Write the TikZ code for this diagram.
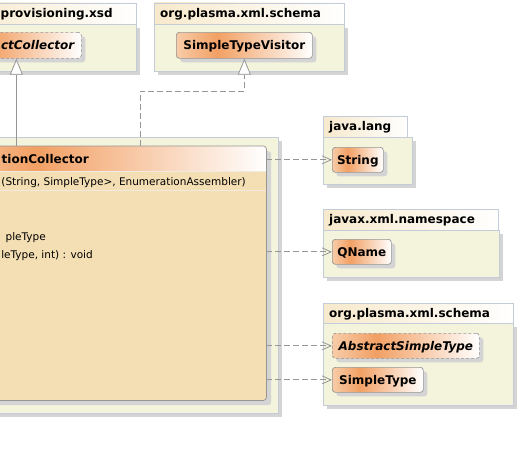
\documentclass[tikz,border=0pt]{standalone}
\usepackage{fontspec}
\setmainfont{DejaVu Sans}
\usetikzlibrary{arrows.meta,shadows}
\definecolor{pkgbody}{RGB}{244,244,221}
\definecolor{pkgline}{RGB}{196,204,218}
\definecolor{pkghead}{RGB}{247,233,204}
\definecolor{clsA}{RGB}{247,204,168}
\definecolor{clsB}{RGB}{242,160,100}
\definecolor{clsline}{RGB}{150,150,150}
\definecolor{wheatfill}{RGB}{244,222,180}
\definecolor{shd}{RGB}{212,212,212}
\definecolor{conn}{RGB}{150,150,150}
\definecolor{sepline}{RGB}{240,234,224}
\pgfdeclarehorizontalshading{clsshade}{100bp}{color(0bp)=(clsA); color(25bp)=(clsA); color(40bp)=(clsB); color(75bp)=(white); color(100bp)=(white)}
\begin{document}
\begin{tikzpicture}[x=1pt,y=-1pt,
  shadowed/.style={drop shadow={shadow xshift=4pt,shadow yshift=-4pt,fill=shd,opacity=1}},
  pkgb/.style={draw=pkgline,fill=pkgbody,line width=0.6pt,anchor=north west,inner sep=0pt,shadowed},
  pkgt/.style={draw=pkgline,left color=pkghead,right color=white,line width=0.6pt,anchor=north west,inner sep=0pt},
  pkglbl/.style={font=\bfseries\fontsize{12}{14}\selectfont,text height=8.8pt,text depth=0pt,inner sep=0pt},
  cls/.style={draw=clsline,shade,shading=clsshade,rounded corners=3pt,line width=0.7pt,anchor=north west,inner sep=0pt,
    font=\bfseries\fontsize{12}{14}\selectfont,text height=8.8pt,text depth=0pt,shadowed},
  abscls/.style={cls,dash pattern=on 3pt off 2pt,font=\bfseries\itshape\fontsize{12}{14}\selectfont},
  mem/.style={font=\fontsize{10.5}{12}\selectfont,text height=7.7pt,text depth=0pt,inner sep=0pt,anchor=east},
  dep/.style={draw=conn,line width=0.8pt,dash pattern=on 6pt off 3pt,-{Straight Barb[length=9pt,width=8pt]}},
  gen/.style={draw=conn,line width=0.8pt,-{Triangle[length=16pt,width=13pt,fill=white]}},
  real/.style={gen,dash pattern=on 6pt off 3pt}
]
\useasboundingbox (0,0) rectangle (521,456);
\clip (0,0) rectangle (521,456);

% package provisioning.xsd (top left)
\node[pkgb,minimum width=176pt,minimum height=47pt] (p1b) at (-40,24) {};
\node[pkgt,minimum width=176pt,minimum height=21.5pt] (p1t) at (-40,2.5) {};
\node[pkglbl,anchor=west] (p1l) at (0.5,13.5) {provisioning.xsd};
\node[abscls,minimum width=130pt,minimum height=26pt] (ac) at (-49,32) {};
\node[pkglbl,font=\bfseries\itshape\fontsize{12}{14}\selectfont,anchor=east] (acl) at (74.5,45) {ctCollector};

% package org.plasma.xml.schema (top)
\node[pkgb,minimum width=190pt,minimum height=47pt] (p2b) at (154,24) {};
\node[pkgt,minimum width=190pt,minimum height=21.5pt] (p2t) at (154,2.5) {};
\node[pkglbl,anchor=west] (p2l) at (160,13.5) {org.plasma.xml.schema};
\node[cls,minimum width=136pt,minimum height=26pt] (stv) at (176,32) {SimpleTypeVisitor};

% big package (left)
\node[pkgb,minimum width=318pt,minimum height=276pt] (p3b) at (-40,137) {};

% class EnumerationCollector
\node[fill=wheatfill,rounded corners=3pt,anchor=north west,inner sep=0pt,minimum width=328pt,minimum height=254pt,
  drop shadow={shadow xshift=5pt,shadow yshift=-5pt,fill=shd,opacity=1}] (ec) at (-62,146) {};
\begin{scope}
  \clip[rounded corners=3pt] (ec.north west) rectangle (ec.south east);
  \shade[shading=clsshade] (ec.north west) rectangle (ec.east |- 0,171);
\end{scope}
\draw[sepline,line width=0.9pt] (ec.west |- 0,171) -- (ec.east |- 0,171);
\draw[sepline,line width=0.9pt] (ec.west |- 0,190) -- (ec.east |- 0,190);
\draw[clsline,line width=0.7pt,rounded corners=3pt] (ec.north west) rectangle (ec.south east);
\node[pkglbl,anchor=west] (ecn) at (1.5,159) {tionCollector};
\node[mem] (ecc) at (246,181.7) {(String, SimpleType>, EnumerationAssembler)};
\node[mem] (eca) at (46,237) {pleType};
\node[mem] (ecm) at (93,254.9) {leType, int) : void};

% package java.lang
\node[pkgb,minimum width=89pt,minimum height=47pt] (p4b) at (323,137) {};
\node[pkgt,minimum width=84pt,minimum height=21pt] (p4t) at (323,116) {};
\node[pkglbl,anchor=west] (p4l) at (329,126.5) {java.lang};
\node[cls,minimum width=51pt,minimum height=25pt] (str) at (332,147) {String};

% package javax.xml.namespace
\node[pkgb,minimum width=176pt,minimum height=47pt] (p5b) at (323,230) {};
\node[pkgt,minimum width=175pt,minimum height=21pt] (p5t) at (323,209) {};
\node[pkglbl,anchor=west] (p5l) at (329,219.5) {javax.xml.namespace};
\node[cls,minimum width=59pt,minimum height=25pt] (qn) at (332,239) {QName};

% package org.plasma.xml.schema (bottom right)
\node[pkgb,minimum width=190pt,minimum height=82pt] (p6b) at (323,323) {};
\node[pkgt,minimum width=190pt,minimum height=20pt] (p6t) at (323,303) {};
\node[pkglbl,anchor=west] (p6l) at (329,313) {org.plasma.xml.schema};
\node[abscls,minimum width=147pt,minimum height=25pt] (ast) at (332,333) {AbstractSimpleType};
\node[cls,minimum width=91pt,minimum height=25pt] (st) at (332,367) {SimpleType};

% connectors
\draw[gen] (ac.south |- ec.north) -- (ac.south);
\coordinate (rbend) at (140,91);
\draw[real] (rbend |- ec.north) -- (rbend) -| (stv.south);
\draw[dep] (ec.east |- str.west) -- (str.west);
\draw[dep] (ec.east |- qn.west) -- (qn.west);
\draw[dep] (ec.east |- ast.west) -- (ast.west);
\draw[dep] (ec.east |- st.west) -- (st.west);
\end{tikzpicture}
\end{document}
